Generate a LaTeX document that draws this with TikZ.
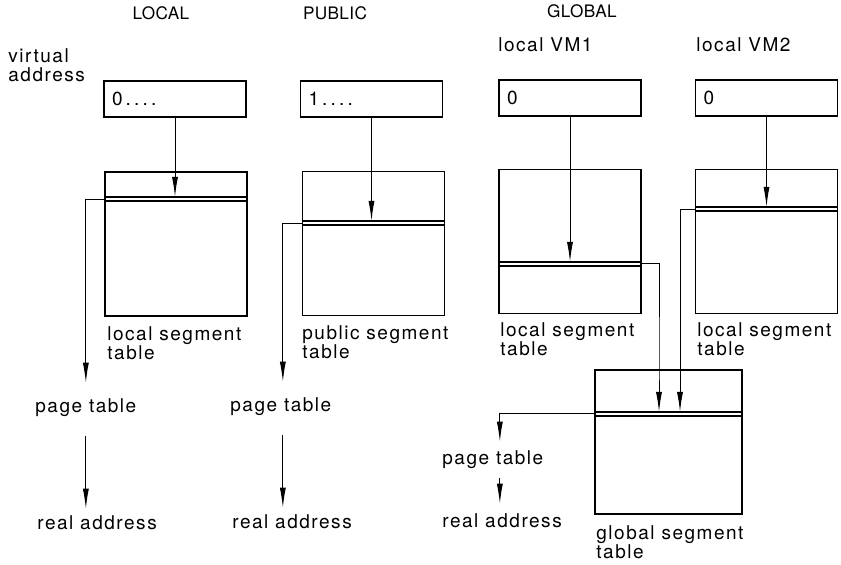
\documentclass[tikz,border=0pt]{standalone}
\usepackage{fontspec}
\setmainfont[LetterSpace=8]{TeX Gyre Heros}
\usetikzlibrary{arrows.meta}
\tikzset{
  arr/.style={-{Latex[length=10pt,width=3pt]}, line width=.5pt},
  vabox/.style={draw, line width=.8pt, text width=63pt, minimum height=18pt, inner xsep=4pt, align=left},
  segtab/.style={draw, line width=.8pt, minimum width=71pt, minimum height=72pt, inner sep=0pt},
  lbl/.style={anchor=base west, inner sep=0pt},
  lbl2/.style={anchor=north west, inner sep=0pt, align=left},
  head/.style={anchor=base, inner sep=0pt, font=\fontsize{8.6}{9}\selectfont\addfontfeatures{LetterSpace=2}}
}
\begin{document}
\begin{tikzpicture}[x=.5pt, y=-.5pt, font=\fontsize{9.5}{9.8}\selectfont]
\useasboundingbox (0,0) rectangle (841,565);

% headings
\node[head] (hlocal) at (161,20) {LOCAL};
\node[head] (hpublic) at (335,20) {PUBLIC};
\node[head] (hglobal) at (582,18) {GLOBAL};
\node[lbl2] (vaddr) at (8,48) {virtual\\address};
\node[lbl] (vm1) at (498,52) {local VM1};
\node[lbl] (vm2) at (696,52) {local VM2};

% virtual addresses
\node[vabox] (va1) at (175,99) {0\,.\,.\,.\,.};
\node[vabox] (va2) at (371.5,99) {1\,.\,.\,.\,.};
\node[vabox] (va3) at (570,98) {0};
\node[vabox] (va4) at (766.5,98) {0};

% segment tables
\node[segtab] (lst) at (176,244) {};
\node[segtab] (pst) at (373.5,243.5) {};
\node[segtab] (lst1) at (570,241.5) {};
\node[segtab] (lst2) at (766.5,241.5) {};
\node[segtab, minimum width=73.5pt] (gst) at (668.5,442) {};

\draw[line width=.6pt] (lst.west |- 0,197) -- (lst.east |- 0,197);
\draw[line width=.6pt] (lst.west |- 0,201) -- (lst.east |- 0,201);
\draw[line width=.6pt] (pst.west |- 0,221) -- (pst.east |- 0,221);
\draw[line width=.6pt] (pst.west |- 0,225) -- (pst.east |- 0,225);
\draw[line width=.6pt] (lst1.west |- 0,262) -- (lst1.east |- 0,262);
\draw[line width=.6pt] (lst1.west |- 0,266) -- (lst1.east |- 0,266);
\draw[line width=.6pt] (lst2.west |- 0,207) -- (lst2.east |- 0,207);
\draw[line width=.6pt] (lst2.west |- 0,211) -- (lst2.east |- 0,211);
\draw[line width=.6pt] (gst.west |- 0,412) -- (gst.east |- 0,412);
\draw[line width=.6pt] (gst.west |- 0,416) -- (gst.east |- 0,416);

\node[lbl2] (tlocal) at (107,326) {local segment\\table};
\node[lbl2] (tpublic) at (302,325) {public segment\\table};
\node[lbl2] (tvm1) at (500,322) {local segment\\table};
\node[lbl2] (tvm2) at (697,322) {local segment\\table};
\node[lbl2] (tglobal) at (596,525) {global segment\\table};

% page tables and real addresses
\node[lbl] (pt1) at (35,413) {page table};
\node[lbl] (ra1) at (37,530) {real address};
\node[lbl] (pt2) at (230,412) {page table};
\node[lbl] (ra2) at (232,529) {real address};
\node[lbl] (pt3) at (442,465) {page table};
\node[lbl] (ra3) at (442,528) {real address};

% connectors
\draw[arr] (va1) -- (va1 |- 0,197);
\draw[arr] (va2) -- (va2 |- 0,221);
\draw[arr] (va3) -- (va3 |- 0,262);
\draw[arr] (va4) -- (va4 |- 0,207);

\draw[arr, shorten >=8pt] (lst.west |- 0,200) -| (pt1.north);
\draw[arr, shorten <=9pt, shorten >=3.5pt] (pt1.south) -- (pt1.south |- ra1.north);
\draw[arr, shorten >=8pt] (pst.west |- 0,224) -| ([xshift=1pt]pt2.north);
\draw[arr, shorten <=9pt, shorten >=3.5pt] ([xshift=1pt]pt2.south) -- ([xshift=1pt]pt2.south |- ra2.north);

\draw[arr] (lst1.east |- 0,264) -| (gst.north -| 659,0) -- (659,412);
\draw[arr] (lst2.west |- 0,210) -| (680,412);
\draw[arr, shorten >=4.5pt] (gst.west |- 0,414) -| ([xshift=3.5pt]pt3.north);
\draw[arr, shorten <=4pt, shorten >=5pt] ([xshift=3.5pt]pt3.south) -- ([xshift=3.5pt]pt3.south |- ra3.north);
\end{tikzpicture}
\end{document}
